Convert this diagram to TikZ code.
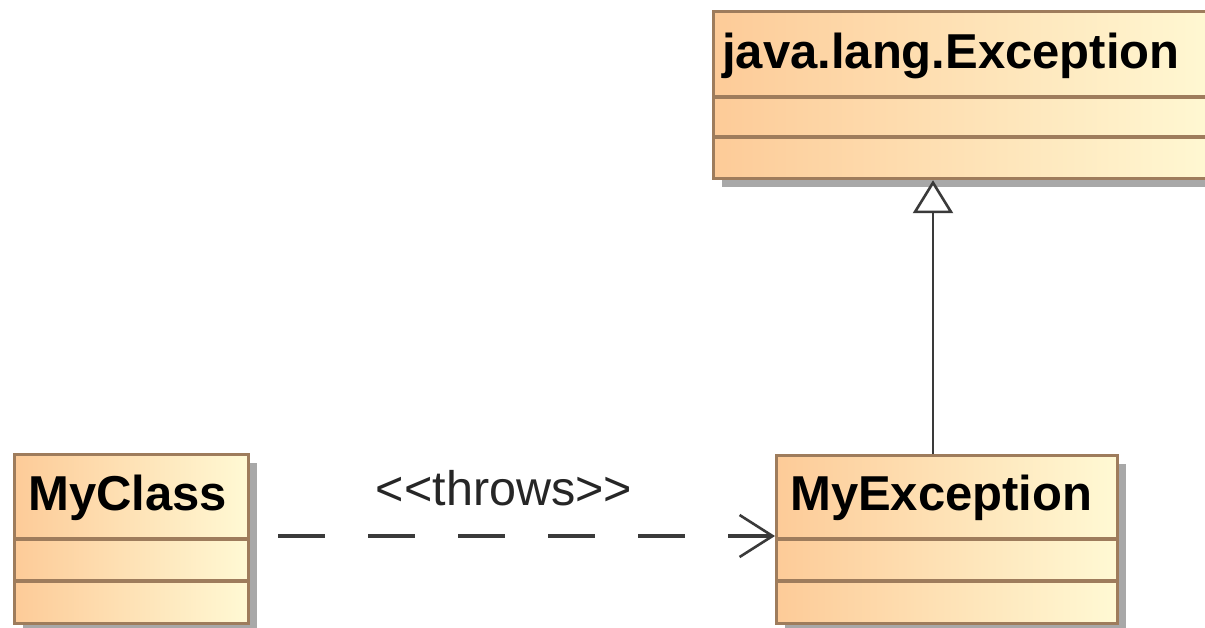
\documentclass[tikz,border=0pt]{standalone}
\usepackage{fontspec}
\setmainfont{Liberation Sans}
\usetikzlibrary{arrows.meta,shadows}

\definecolor{boxleft}{RGB}{253,203,152}
\definecolor{boxright}{RGB}{255,249,212}
\definecolor{boxline}{RGB}{158,124,92}
\definecolor{shadowgrey}{RGB}{168,168,168}
\definecolor{wire}{RGB}{58,58,58}

\tikzset{
  classbox/.style={draw=boxline, line width=3.2pt, inner sep=0pt,
    left color=boxleft, right color=boxright, anchor=north west,
    drop shadow={shadow xshift=8pt, shadow yshift=-8pt, fill=shadowgrey, opacity=1}},
  compline/.style={draw=boxline, line width=3.2pt},
  classname/.style={font=\bfseries\fontsize{49}{52}\selectfont, anchor=base west, inner sep=0pt},
  stereo/.style={font=\fontsize{48.5}{52}\selectfont, text=black!85, anchor=base, inner sep=0pt},
  generalize/.style={draw=wire, line width=2.8pt,
    -{Triangle[open, length=33pt, width=40pt, fill=white, line width=2.6pt]}},
  dependency/.style={draw=wire, line width=3.2pt, dash pattern=on 47pt off 43pt,
    -{Straight Barb[length=33pt, width=42pt, line width=2.6pt]}}
}

\begin{document}
\begin{tikzpicture}[x=1pt, y=-1pt]
  \clip (0,0) rectangle (1205,627);
  \useasboundingbox (0,0) rectangle (1205,627);
  \fill[white] (0,0) rectangle (1205,627);

  % class boxes
  \node[classbox, minimum width=234pt, minimum height=169pt] (myclass) at (13,453) {};
  \node[classbox, minimum width=341pt, minimum height=168pt] (myexc) at (775,454) {};
  \node[classbox, minimum width=510pt, minimum height=167pt] (jle) at (712,10) {};

  % compartment separators
  \draw[compline] ([yshift=-86pt]myclass.north west) -- ([yshift=-86pt]myclass.north east);
  \draw[compline] ([yshift=-128pt]myclass.north west) -- ([yshift=-128pt]myclass.north east);
  \draw[compline] ([yshift=-85pt]myexc.north west) -- ([yshift=-85pt]myexc.north east);
  \draw[compline] ([yshift=-127pt]myexc.north west) -- ([yshift=-127pt]myexc.north east);
  \draw[compline] ([yshift=-87pt]jle.north west) -- ([yshift=-87pt]jle.north east);
  \draw[compline] ([yshift=-127pt]jle.north west) -- ([yshift=-127pt]jle.north east);

  % class names
  \node[classname] (myclassname) at (28,510) {MyClass};
  \node[classname] (myexcname) at (790,510) {MyException};
  \node[classname] (jlename) at (722,68) {java.lang.Exception};

  % generalization MyException -> java.lang.Exception
  \coordinate (genx) at (933,0);
  \draw[generalize] (myexc.north -| genx) -- (jle.south -| genx);

  % <<throws>> dependency MyClass -> MyException
  \coordinate (depy) at (0,536);
  \draw[dependency, shorten <=28pt] (myclass.east |- depy) -- (myexc.west |- depy);
  \node[stereo] (throws) at (504,505) {<{}<throws>{}>};
\end{tikzpicture}
\end{document}
